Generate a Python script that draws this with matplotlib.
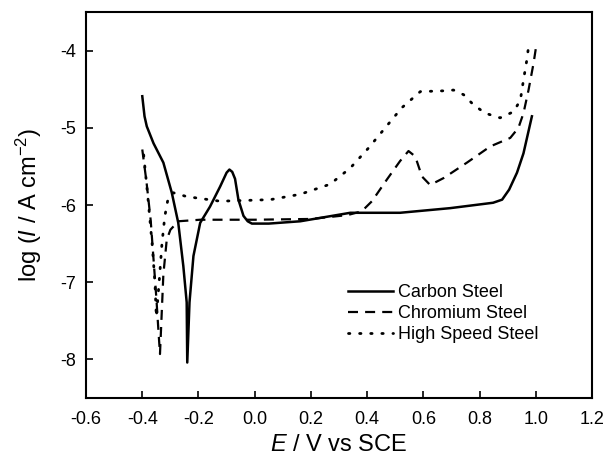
import matplotlib.pyplot as plt

plt.rcParams['font.family'] = ['Liberation Sans', 'DejaVu Sans']
plt.rcParams['mathtext.fontset'] = 'custom'
plt.rcParams['mathtext.rm'] = 'Liberation Sans'
plt.rcParams['mathtext.it'] = 'Liberation Sans:italic'

# Carbon steel (solid)
carbon_E = [-0.400, -0.392, -0.384, -0.360, -0.325, -0.295, -0.272, -0.254, -0.242, -0.240,
            -0.232, -0.218, -0.194, -0.159, -0.123, -0.100, -0.090, -0.080, -0.070, -0.058,
            -0.040, -0.025, -0.010, 0.050, 0.162, 0.340, 0.517, 0.695, 0.848, 0.880,
            0.905, 0.933, 0.956, 0.986]
carbon_L = [-4.59, -4.85, -4.98, -5.20, -5.45, -5.84, -6.23, -6.79, -7.26, -8.04,
            -7.26, -6.66, -6.23, -6.02, -5.76, -5.58, -5.54, -5.57, -5.66, -5.93,
            -6.14, -6.21, -6.24, -6.24, -6.21, -6.10, -6.10, -6.04, -5.97, -5.93,
            -5.80, -5.58, -5.33, -4.85]

# Chromium steel (dashed)
chrom_E = [-0.400, -0.385, -0.370, -0.360, -0.350, -0.343, -0.337, -0.325, -0.313,
           -0.300, -0.272, -0.194, 0.000, 0.200, 0.330, 0.381, 0.417, 0.470, 0.517,
           0.547, 0.571, 0.595, 0.624, 0.672, 0.755, 0.838, 0.909, 0.938, 0.956,
           0.974, 0.992, 1.000]
chrom_L = [-5.28, -5.70, -6.20, -6.70, -7.20, -7.60, -7.93, -6.90, -6.45,
           -6.32, -6.21, -6.19, -6.19, -6.18, -6.13, -6.08, -5.95, -5.67, -5.43,
           -5.30, -5.37, -5.63, -5.74, -5.65, -5.45, -5.24, -5.13, -5.00, -4.81,
           -4.51, -4.16, -3.97]

# High speed steel (dotted)
hss_E = [-0.395, -0.380, -0.365, -0.355, -0.350, -0.340, -0.330, -0.320, -0.310,
         -0.290, -0.242, -0.123, 0.055, 0.162, 0.268, 0.340, 0.405, 0.464, 0.523,
         0.589, 0.672, 0.707, 0.743, 0.778, 0.820, 0.873, 0.921, 0.945, 0.956,
         0.968, 0.974]
hss_L = [-5.35, -5.90, -6.50, -7.00, -7.45, -7.00, -6.50, -6.15, -5.95,
         -5.84, -5.89, -5.95, -5.93, -5.86, -5.73, -5.52, -5.26, -5.00, -4.74,
         -4.53, -4.52, -4.51, -4.57, -4.70, -4.81, -4.87, -4.79, -4.64, -4.38,
         -4.12, -3.95]

x_ticks = [-0.6, -0.4, -0.2, 0.0, 0.2, 0.4, 0.6, 0.8, 1.0, 1.2]
x_labels = ['-0.6', '-0.4', '-0.2', '0.0', '0.2', '0.4', '0.6', '0.8', '1.0', '1.2']
y_ticks = [-8, -7, -6, -5, -4]
y_labels = ['-8', '-7', '-6', '-5', '-4']

fig = plt.figure(figsize=(6.06, 4.65), dpi=100)
ax = fig.add_axes([0.142, 0.144, 0.835, 0.830])

ax.plot(carbon_E, carbon_L, color='black', lw=1.8, label='Carbon Steel')
ax.plot(chrom_E, chrom_L, color='black', lw=1.6, dashes=(4.5, 3.2), label='Chromium Steel')
ax.plot(hss_E, hss_L, color='black', lw=2.0, linestyle=(0, (0.5, 3.5)),
        dash_capstyle='round', label='High Speed Steel')

ax.set_xlim(-0.6, 1.2)
ax.set_ylim(-8.5, -3.5)
ax.set_xticks(x_ticks)
ax.set_xticklabels(x_labels)
ax.set_yticks(y_ticks)
ax.set_yticklabels(y_labels)
ax.tick_params(direction='in', length=5, width=1.2, labelsize=13)
ax.tick_params(axis='x', pad=9)
ax.tick_params(axis='y', pad=7)
for s in ax.spines.values():
    s.set_linewidth(1.5)

ax.set_xlabel(r'$\it{E}$ / V vs SCE', fontsize=17, labelpad=5)
ax.set_ylabel(r'log ($\it{I}$ / A cm$^{-2}$)', fontsize=17, labelpad=12)

ax.legend(loc='upper left', bbox_to_anchor=(0.518, 0.295), frameon=False,
          fontsize=13, handlelength=2.5, handletextpad=0.25, labelspacing=0.22,
          borderpad=0, borderaxespad=0)

fig.savefig('out.png', dpi=100)
